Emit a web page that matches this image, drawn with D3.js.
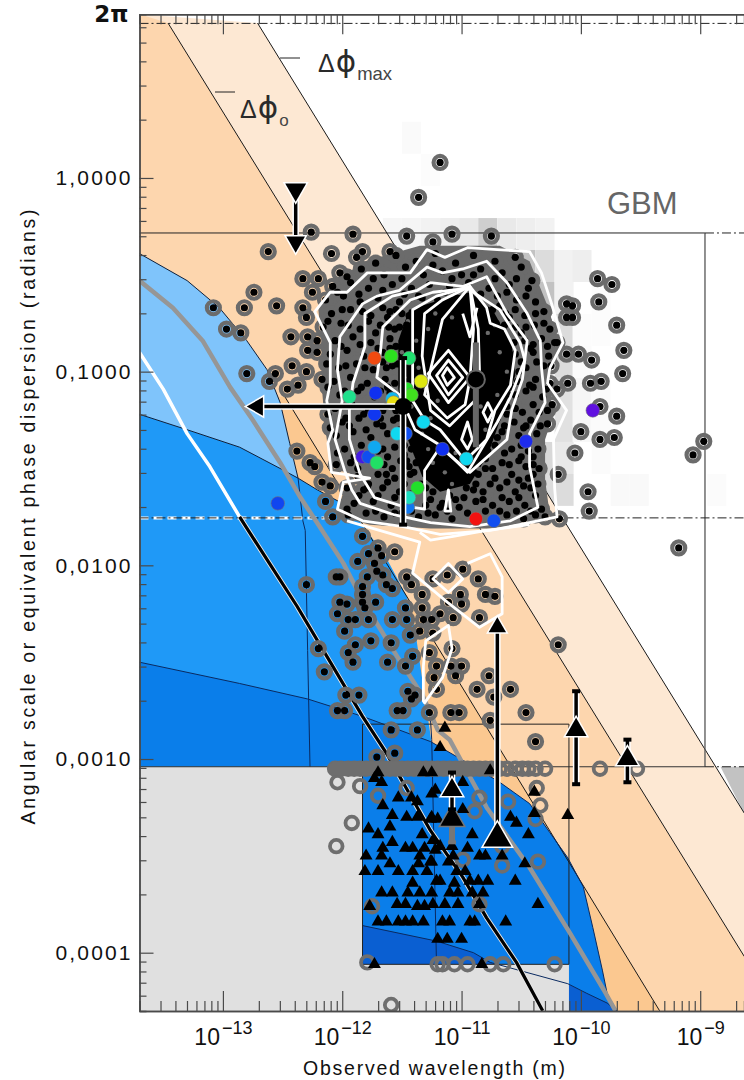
<!DOCTYPE html>
<html>
<head>
<meta charset="utf-8">
<script src="https://cdn.jsdelivr.net/npm/d3@7"></script>
<style>
  html, body { margin: 0; background: #fff; }
  svg { display: block; font-family: "Liberation Sans", Arial, sans-serif; }
</style>
</head>
<body>
<svg id="chart" width="744" height="1080"></svg>
<script>
// all curve and point values are log10(wavelength in m), log10(phase in radians)
const LAM_MIN = -13.699, LAM_MAX = -8.633, PHI_MIN = -4.301, PHI_MAX = 0.845;
const PHI_2PI = 0.798, PHI_GBM_TOP = -0.284, PHI_GBM_LOW = -1.755, PHI_FLOOR = -3.04;
const LAM_GBM_RIGHT = -8.96;
const LAM_BOX = [-11.83, -10.10], PHI_BOX = [-2.82, -4.06];

const maxLine = [[-12.71, 0.80], [-8.63, -3.28]];
const zeroLine = [[-13.46, 0.80], [-8.63, -4.02]];
const thirdLine = [[-12.48, -1.13], [-9.34, -4.30]];
const lightBlueEdge = [[-13.70, -0.39], [-13.30, -0.53], [-13.03, -0.67], [-12.80, -0.84], [-12.63, -0.99], [-12.52, -1.16], [-12.44, -1.37], [-12.37, -1.55]];
const midBlueEdge = [[-13.70, -1.22], [-13.25, -1.31], [-12.86, -1.39], [-12.52, -1.50], [-12.37, -1.55], [-12.21, -1.61], [-11.94, -1.70], [-11.64, -1.95], [-11.46, -2.16], [-11.39, -2.33], [-11.32, -2.63], [-11.25, -2.92]];
const darkBlueEdge = [[-13.70, -2.50], [-12.86, -2.61], [-12.29, -2.69], [-11.83, -2.78], [-11.26, -2.91], [-10.95, -3.02], [-10.68, -3.12], [-10.43, -3.23], [-10.26, -3.38], [-10.11, -3.51], [-9.98, -3.66], [-9.90, -3.87], [-9.82, -4.09], [-9.78, -4.21], [-9.70, -4.30]];
const deepBlueEdge = [[-13.70, -3.70], [-11.83, -3.86], [-11.21, -3.94], [-10.90, -4.00], [-10.76, -4.05], [-10.11, -4.16], [-9.95, -4.21], [-9.78, -4.26], [-9.70, -4.30]];
const thinVertA = [[-12.37, -1.55], [-12.33, -1.77], [-12.31, -1.82], [-12.29, -2.44], [-12.27, -3.04]];
const thinVertB = [[-11.26, -2.80], [-11.25, -2.90], [-11.21, -4.06]];
const greyCurve = [[-13.70, -0.53], [-13.42, -0.67], [-13.17, -0.84], [-12.94, -1.08], [-12.75, -1.25], [-12.52, -1.47], [-12.35, -1.65], [-12.19, -1.80], [-11.99, -1.99], [-11.83, -2.18], [-11.54, -2.47], [-11.32, -2.68], [-11.20, -2.85], [-11.10, -2.90], [-10.79, -3.25], [-10.43, -3.56], [-10.09, -3.90], [-9.81, -4.19], [-9.71, -4.30]];
const whiteCurve = [[-13.70, -0.90], [-13.50, -1.09], [-13.30, -1.32], [-13.11, -1.49], [-12.86, -1.75]];
const blackCurve = [[-12.86, -1.75], [-12.61, -1.99], [-12.38, -2.21], [-12.10, -2.50], [-11.83, -2.78], [-11.63, -2.97], [-11.26, -3.37], [-10.99, -3.61], [-10.79, -3.82], [-10.54, -4.05], [-10.32, -4.30]];

// faint 2d histogram behind everything: lam left, phi top, level
const HIST_W = 0.159, HIST_H = 0.165;
const histCells = [
  [-11.50, 0.29, 0.06], [-11.34, 0.124, 0.03], [-11.66, -0.207, 0.1], [-11.50, -0.207, 0.12], [-11.34, -0.207, 0.15],
  [-11.18, -0.207, 0.2], [-11.02, -0.207, 0.25], [-10.86, -0.207, 0.55], [-10.70, -0.207, 0.25], [-10.54, -0.207, 0.2],
  [-10.38, -0.207, 0.15], [-10.70, -0.372, 0.4], [-10.54, -0.372, 0.7], [-10.38, -0.372, 0.4], [-10.22, -0.372, 0.15],
  [-10.07, -0.372, 0.2], [-10.38, -0.537, 0.7], [-10.22, -0.537, 0.15], [-9.91, -0.537, 0.04], [-10.22, -0.702, 0.4],
  [-10.07, -0.702, 0.04], [-9.91, -0.702, 0.04], [-10.22, -0.867, 0.4], [-10.07, -0.867, 0.05], [-10.22, -1.033, 0.35],
  [-10.07, -1.033, 0.1], [-9.91, -1.033, 0.05], [-10.22, -1.198, 0.35], [-10.07, -1.198, 0.08], [-9.91, -1.198, 0.05],
  [-10.38, -1.363, 0.45], [-10.22, -1.363, 0.25], [-9.91, -1.363, 0.05], [-10.38, -1.528, 0.4], [-10.22, -1.528, 0.4],
  [-9.75, -1.528, 0.07], [-9.59, -1.528, 0.07], [-8.94, -1.528, 0.05]
];

// white contours of the GBM sample
const closedContours = [
  [[-12.23, -0.69], [-12.10, -0.59], [-11.96, -0.59], [-11.79, -0.49], [-11.58, -0.49], [-11.43, -0.49], [-11.29, -0.37], [-11.14, -0.41], [-10.95, -0.36], [-10.70, -0.37], [-10.43, -0.38], [-10.33, -0.49], [-10.24, -0.66], [-10.15, -0.85], [-10.26, -0.98], [-10.28, -1.06], [-10.12, -1.20], [-10.23, -1.35], [-10.22, -1.60], [-10.20, -1.75], [-10.43, -1.78], [-10.76, -1.82], [-11.18, -1.84], [-11.49, -1.80], [-11.83, -1.77], [-12.04, -1.71], [-11.99, -1.57], [-11.77, -1.55], [-12.09, -1.52], [-12.12, -1.37], [-12.08, -1.30], [-12.13, -1.15], [-12.10, -1.06], [-12.10, -0.85]],
  [[-12.02, -0.82], [-11.83, -0.65], [-11.71, -0.61], [-11.52, -0.58], [-11.29, -0.46], [-11.16, -0.49], [-10.99, -0.47], [-10.79, -0.43], [-10.62, -0.54], [-10.45, -0.70], [-10.34, -0.84], [-10.33, -0.98], [-10.30, -1.16], [-10.43, -1.32], [-10.43, -1.49], [-10.36, -1.70], [-10.59, -1.77], [-10.93, -1.80], [-11.26, -1.78], [-11.56, -1.74], [-11.85, -1.68], [-11.92, -1.61], [-11.98, -1.51], [-12.06, -1.35], [-12.00, -1.15], [-12.04, -0.99]],
  [[-11.91, -1.06], [-11.81, -0.87], [-11.81, -0.70], [-11.58, -0.61], [-11.37, -0.58], [-11.26, -0.54], [-10.99, -0.56], [-10.79, -0.51], [-10.62, -0.70], [-10.45, -0.84], [-10.49, -1.04], [-10.58, -1.20], [-10.62, -1.35], [-10.93, -1.52], [-11.18, -1.39], [-11.31, -1.51], [-11.31, -1.71], [-11.52, -1.69], [-11.73, -1.65], [-11.85, -1.53], [-11.94, -1.35], [-11.94, -1.20]],
  [[-11.68, -0.90], [-11.66, -0.77], [-11.43, -0.63], [-11.24, -0.59], [-10.95, -0.57], [-10.68, -0.68], [-10.58, -0.78], [-10.51, -0.85], [-10.47, -0.94], [-10.59, -1.13], [-10.70, -1.26], [-10.95, -1.52], [-11.18, -1.38], [-11.39, -1.30], [-11.52, -1.12], [-11.71, -1.03]],
  [[-11.41, -0.92], [-11.41, -0.68], [-11.21, -0.61], [-10.93, -0.56], [-10.79, -0.67], [-10.76, -0.75], [-10.64, -0.78], [-10.55, -0.89], [-10.59, -1.07], [-10.72, -1.20], [-10.79, -1.35], [-10.97, -1.46], [-11.18, -1.30], [-11.31, -1.25], [-11.41, -1.15]],
  [[-11.33, -0.92], [-11.31, -0.70], [-11.16, -0.63], [-10.93, -0.56], [-10.86, -0.78], [-10.85, -0.99], [-10.89, -1.15], [-11.10, -1.28], [-11.26, -1.20]],
  [[-11.26, -0.99], [-11.16, -0.73], [-10.93, -0.56], [-10.90, -0.78], [-10.93, -1.04], [-10.97, -1.17], [-11.12, -1.24], [-11.31, -1.12]],
  [[-11.11, -0.89], [-10.93, -1.03], [-11.11, -1.16], [-11.28, -1.01]],
  [[-11.11, -0.94], [-10.99, -1.03], [-11.11, -1.12], [-11.21, -1.02]],
  [[-11.12, -0.98], [-11.06, -1.03], [-11.12, -1.07], [-11.16, -1.02]],
  [[-10.78, -1.16], [-10.74, -1.21], [-10.78, -1.26], [-10.82, -1.21]],
  [[-10.95, -1.26], [-10.91, -1.35], [-10.95, -1.40], [-11.00, -1.35]],
  [[-11.11, -1.61], [-11.09, -1.72], [-11.14, -1.72]],
  [[-11.11, -1.99], [-10.99, -2.07], [-11.11, -2.14], [-11.24, -2.07]],
  [[-11.32, -2.70], [-11.32, -2.52], [-11.30, -2.39], [-11.11, -2.31], [-11.08, -2.43], [-11.16, -2.58], [-11.31, -2.71]]
];
const openContours = [
  [[-10.99, -0.70], [-10.93, -0.82], [-10.87, -0.67]],
  [[-11.35, -1.83], [-11.26, -1.87], [-11.07, -1.85], [-10.79, -1.82], [-10.43, -1.79]],
  [[-11.96, -1.77], [-11.35, -1.88], [-11.41, -2.04], [-11.12, -2.19], [-10.85, -2.32], [-10.66, -2.25], [-10.66, -2.06], [-10.76, -1.94], [-10.95, -1.99]]
];

// the rings of the crowded sample merge into one grey area, the middle of it into solid black
const greyCrowd = [[-12.10, -0.55], [-11.81, -0.43], [-11.35, -0.35], [-10.68, -0.35], [-10.43, -0.43], [-10.28, -0.66], [-10.18, -0.86], [-10.30, -1.07], [-10.22, -1.20], [-10.30, -1.35], [-10.30, -1.56], [-10.26, -1.74], [-10.68, -1.81], [-11.26, -1.81], [-11.77, -1.79], [-12.06, -1.74], [-11.98, -1.61], [-11.73, -1.55], [-11.98, -1.52], [-12.10, -1.49], [-12.14, -1.30], [-12.17, -1.09], [-12.17, -0.86], [-12.20, -0.68]];
const blackCore = [[-11.44, -0.68], [-11.18, -0.63], [-10.93, -0.59], [-10.74, -0.68], [-10.58, -0.86], [-10.55, -1.02], [-10.66, -1.22], [-10.78, -1.43], [-10.93, -1.58], [-11.18, -1.62], [-11.33, -1.54], [-11.45, -1.35], [-11.53, -1.09], [-11.53, -0.84]];
const coreGaps = [
  [-11.45, -0.74], [-11.50, -0.90], [-11.38, -0.84], [-11.48, -1.03], [-11.36, -0.98], [-11.42, -1.18], [-11.30, -1.09], [-11.33, -1.32], [-11.26, -1.24],
  [-11.22, -0.70], [-11.28, -0.78], [-11.08, -0.72], [-10.78, -0.80], [-10.68, -0.90], [-10.62, -1.00], [-10.70, -1.12], [-10.80, -1.30], [-10.72, -0.76],
  [-11.24, -1.47], [-11.14, -1.52], [-11.05, -1.42], [-10.86, -1.50], [-11.08, -1.58], [-11.28, -1.40], [-10.84, -1.18], [-11.20, -1.15]
];

const gbmOutliers = [
  [-11.18, 0.08], [-11.36, -0.10], [-12.26, -0.28], [-11.91, -0.29], [-11.46, -0.30], [-11.24, -0.33], [-12.62, -0.38], [-12.09, -0.39], [-11.83, -0.38], [-11.60, -0.38],
  [-12.33, -0.52], [-12.20, -0.52], [-12.25, -0.59], [-12.74, -0.59], [-12.82, -0.67], [-12.55, -0.66], [-13.08, -0.67], [-12.33, -0.67], [-12.30, -0.72], [-12.97, -0.78],
  [-12.85, -0.80], [-12.43, -0.82], [-12.29, -0.82], [-12.21, -0.84], [-12.29, -0.89], [-12.21, -0.90], [-12.80, -1.01], [-12.56, -1.01], [-12.42, -0.97], [-12.61, -1.05],
  [-12.30, -1.00], [-12.46, -1.09], [-12.37, -1.07], [-12.17, -1.04], [-12.38, -1.41], [-12.27, -1.47], [-12.23, -1.49], [-12.17, -1.57], [-12.10, -1.59], [-12.14, -1.67],
  [-11.96, -1.60], [-11.79, -1.60], [-11.63, -1.53], [-11.95, -1.74], [-12.08, -1.75], [-11.08, -0.29], [-10.75, -0.30], [-9.86, -0.52], [-9.74, -0.55], [-9.85, -0.64],
  [-9.70, -0.76], [-9.64, -0.89], [-9.65, -1.01], [-10.12, -0.65], [-10.07, -0.66], [-10.12, -0.72], [-10.07, -0.72], [-10.12, -0.91], [-10.02, -0.91], [-9.91, -0.94],
  [-10.11, -1.06], [-9.92, -1.06], [-9.83, -1.05], [-10.20, -1.09], [-10.24, -1.17], [-9.84, -1.18], [-9.70, -1.23], [-10.00, -1.31], [-9.84, -1.35], [-9.72, -1.34],
  [-10.05, -1.42], [-10.19, -1.53], [-9.94, -1.62], [-9.93, -1.72], [-10.18, -1.76], [-9.06, -1.43], [-8.97, -1.36], [-10.40, -1.44], [-10.40, -1.53], [-10.41, -0.53],
  [-10.20, -0.85], [-9.18, -1.91]
];
const gbmTail = [
  [-11.83, -1.85], [-11.70, -1.91], [-11.78, -1.94], [-11.56, -1.93], [-11.67, -1.95], [-11.87, -1.98], [-11.73, -1.99], [-11.71, -2.03], [-11.79, -2.06], [-11.66, -2.05],
  [-12.05, -2.06], [-12.02, -2.06], [-12.30, -2.10], [-11.63, -2.10], [-11.58, -2.12], [-11.83, -2.11], [-11.83, -2.15], [-11.83, -2.19], [-12.02, -2.19], [-11.96, -2.20],
  [-11.72, -2.19], [-11.81, -2.22], [-12.04, -2.25], [-11.95, -2.28], [-11.89, -2.28], [-11.78, -2.28], [-11.58, -2.28], [-11.46, -2.28], [-11.47, -2.22], [-11.46, -2.06],
  [-11.42, -2.10], [-11.33, -2.15], [-11.33, -2.22], [-11.32, -2.28], [-11.25, -2.28], [-11.98, -2.34], [-11.35, -2.34], [-11.43, -2.36], [-11.89, -2.41], [-11.76, -2.39],
  [-11.59, -2.40], [-12.20, -2.43], [-11.95, -2.45], [-11.91, -2.50], [-11.62, -2.50], [-11.41, -2.47], [-11.47, -2.52], [-12.15, -2.55], [-11.27, -2.45], [-11.21, -2.52],
  [-11.23, -2.58], [-11.45, -2.65], [-11.39, -2.67], [-11.42, -2.69], [-11.97, -2.67], [-11.86, -2.67], [-12.04, -2.75], [-11.98, -2.75], [-11.54, -2.75], [-11.49, -2.75],
  [-11.27, -2.76], [-11.59, -2.85], [-11.37, -2.85], [-11.71, -2.99], [-11.56, -2.97], [-11.12, -2.05], [-10.86, -2.07], [-11.24, -2.07], [-10.99, -2.02], [-10.80, -2.15],
  [-10.72, -2.16], [-11.01, -2.15], [-11.00, -2.20], [-11.11, -2.19], [-11.18, -2.25], [-11.07, -2.27], [-10.85, -2.27], [-11.24, -2.35], [-11.08, -2.43], [-11.09, -2.52],
  [-11.00, -2.52], [-11.05, -2.57], [-11.21, -2.64], [-10.77, -2.57], [-10.87, -2.64], [-10.73, -2.68], [-10.59, -2.64], [-11.09, -2.76], [-11.02, -2.76], [-10.76, -2.80],
  [-10.46, -2.76], [-10.38, -2.91], [-10.19, -2.41]
];
const gbmCloud = [
  [-11.88, -0.41], [-11.72, -0.44], [-11.55, -0.40], [-11.38, -0.43], [-11.22, -0.39], [-11.05, -0.44], [-10.90, -0.40], [-10.72, -0.43], [-10.55, -0.41],
  [-12.02, -0.49], [-11.84, -0.47], [-11.65, -0.50], [-11.47, -0.46], [-11.32, -0.50], [-11.16, -0.48], [-11.00, -0.50], [-10.84, -0.47], [-10.66, -0.49], [-10.50, -0.46],
  [-12.08, -0.56], [-11.93, -0.54], [-11.78, -0.57], [-11.58, -0.55], [-11.42, -0.57], [-11.27, -0.55], [-11.10, -0.56], [-10.94, -0.54], [-10.77, -0.57], [-10.60, -0.55], [-10.44, -0.57],
  [-12.14, -0.63], [-11.99, -0.61], [-11.85, -0.64], [-11.70, -0.62], [-11.52, -0.64], [-11.36, -0.61], [-11.20, -0.63], [-11.04, -0.62], [-10.88, -0.64], [-10.70, -0.61], [-10.54, -0.63], [-10.38, -0.64],
  [-12.09, -0.70], [-11.93, -0.68], [-11.76, -0.71], [-11.60, -0.69], [-11.44, -0.71], [-11.28, -0.68], [-10.63, -0.70], [-10.47, -0.71], [-10.31, -0.69],
  [-12.16, -0.77], [-12.01, -0.75], [-11.85, -0.78], [-11.68, -0.76], [-11.52, -0.77], [-10.71, -0.75], [-10.55, -0.77], [-10.39, -0.76], [-10.26, -0.78],
  [-12.06, -0.84], [-11.91, -0.82], [-11.76, -0.85], [-11.60, -0.83], [-10.63, -0.82], [-10.47, -0.84], [-10.33, -0.83], [-10.22, -0.85],
  [-12.10, -0.91], [-11.96, -0.89], [-11.82, -0.92], [-11.66, -0.90], [-10.55, -0.91], [-10.40, -0.90], [-10.27, -0.92],
  [-12.03, -0.98], [-11.88, -0.96], [-11.74, -0.99], [-11.58, -0.97], [-10.46, -0.98], [-10.31, -0.97],
  [-12.07, -1.05], [-11.93, -1.03], [-11.79, -1.06], [-11.64, -1.04], [-10.53, -1.05], [-10.38, -1.04], [-10.26, -1.06],
  [-12.02, -1.12], [-11.87, -1.10], [-11.73, -1.13], [-11.60, -1.11], [-10.61, -1.12], [-10.46, -1.10], [-10.32, -1.13],
  [-12.06, -1.19], [-11.92, -1.17], [-11.78, -1.20], [-11.63, -1.18], [-11.50, -1.19], [-10.55, -1.19], [-10.40, -1.17], [-10.28, -1.20],
  [-12.00, -1.26], [-11.86, -1.24], [-11.71, -1.27], [-11.57, -1.25], [-10.70, -1.24], [-10.56, -1.26], [-10.42, -1.25],
  [-12.05, -1.33], [-11.91, -1.31], [-11.76, -1.34], [-11.62, -1.32], [-11.49, -1.33], [-10.66, -1.31], [-10.52, -1.33], [-10.37, -1.32],
  [-11.98, -1.40], [-11.84, -1.38], [-11.70, -1.41], [-11.56, -1.39], [-11.42, -1.40], [-10.72, -1.38], [-10.58, -1.40], [-10.44, -1.41],
  [-11.93, -1.47], [-11.80, -1.45], [-11.65, -1.48], [-11.51, -1.46], [-11.38, -1.47], [-10.80, -1.45], [-10.66, -1.47], [-10.52, -1.46], [-10.40, -1.48],
  [-11.87, -1.54], [-11.70, -1.53], [-11.56, -1.55], [-11.43, -1.53], [-10.86, -1.53], [-10.72, -1.55], [-10.58, -1.53], [-10.44, -1.55],
  [-11.82, -1.61], [-11.66, -1.60], [-11.52, -1.62], [-11.38, -1.60], [-11.24, -1.62], [-10.96, -1.60], [-10.82, -1.62], [-10.68, -1.60], [-10.55, -1.62], [-10.42, -1.60],
  [-11.90, -1.68], [-11.74, -1.67], [-11.59, -1.69], [-11.45, -1.67], [-11.30, -1.69], [-11.16, -1.68], [-11.02, -1.70], [-10.88, -1.67], [-10.74, -1.69], [-10.60, -1.67], [-10.47, -1.69],
  [-11.80, -1.73], [-11.65, -1.75], [-11.50, -1.73], [-11.36, -1.75], [-11.22, -1.74], [-11.08, -1.76], [-10.95, -1.73], [-10.62, -1.74], [-10.48, -1.76], [-10.38, -1.74], [-10.30, -1.75],
  [-11.63, -0.98], [-11.60, -0.88], [-11.56, -0.78], [-11.62, -0.72], [-11.55, -0.68], [-11.62, -1.08], [-11.58, -1.16], [-11.54, -1.24], [-11.52, -1.30], [-11.48, -1.38], [-11.46, -1.46], [-11.40, -1.52],
  [-11.30, -1.60], [-11.18, -1.70], [-11.05, -1.66], [-10.88, -1.58], [-10.80, -1.50], [-10.70, -1.34], [-10.62, -1.22], [-10.55, -1.12], [-10.50, -0.95], [-10.50, -0.80], [-10.60, -0.72], [-10.68, -0.66],
  [-11.72, -0.80], [-11.70, -0.94], [-11.70, -1.10], [-11.68, -1.24], [-11.66, -1.40], [-10.42, -0.88], [-10.40, -1.08], [-10.46, -1.28], [-10.50, -1.44], [-10.52, -1.56]
];
// more of the same crowd, sitting in the gaps of the list above
const gbmCloudExtra = [
  [-11.96, -0.51], [-11.74, -0.52], [-11.50, -0.52], [-11.24, -0.45], [-11.08, -0.52], [-10.90, -0.50], [-10.72, -0.52], [-10.54, -0.52],
  [-12.04, -0.59], [-11.86, -0.60], [-11.66, -0.58], [-11.48, -0.60], [-11.33, -0.62], [-11.14, -0.59], [-10.84, -0.60], [-10.62, -0.59], [-10.46, -0.61],
  [-12.00, -0.68], [-11.83, -0.69], [-11.66, -0.67], [-11.50, -0.70], [-10.74, -0.68], [-10.55, -0.68], [-10.38, -0.70],
  [-12.12, -0.74], [-11.95, -0.76], [-11.78, -0.74], [-11.61, -0.77], [-11.46, -0.76], [-10.64, -0.76], [-10.46, -0.77], [-10.31, -0.75],
  [-12.01, -0.87], [-11.85, -0.86], [-11.70, -0.88], [-11.55, -0.87], [-10.56, -0.85], [-10.40, -0.86], [-10.28, -0.87],
  [-12.13, -0.96], [-11.97, -0.97], [-11.81, -0.98], [-11.66, -0.95], [-11.54, -0.96], [-10.52, -1.00], [-10.37, -0.95], [-10.25, -0.97],
  [-12.12, -1.08], [-11.98, -1.10], [-11.84, -1.08], [-11.68, -1.10], [-11.56, -1.06], [-10.58, -1.08], [-10.43, -1.07], [-10.29, -1.09],
  [-12.12, -1.22], [-11.97, -1.24], [-11.82, -1.22], [-11.66, -1.20], [-11.55, -1.20], [-10.62, -1.18], [-10.49, -1.21], [-10.35, -1.21], [-10.28, -1.27],
  [-12.10, -1.29], [-11.94, -1.28], [-11.80, -1.30], [-11.66, -1.28], [-11.46, -1.28], [-10.64, -1.28], [-10.48, -1.29], [-10.34, -1.28],
  [-12.04, -1.42], [-11.90, -1.44], [-11.76, -1.42], [-11.62, -1.44], [-11.48, -1.43], [-10.78, -1.41], [-10.64, -1.42], [-10.50, -1.38], [-10.36, -1.40],
  [-12.05, -1.48], [-11.87, -1.50], [-11.72, -1.47], [-11.58, -1.50], [-11.44, -1.49], [-10.74, -1.50], [-10.60, -1.48], [-10.46, -1.49], [-10.35, -1.50],
  [-11.78, -1.58], [-11.62, -1.57], [-11.48, -1.58], [-11.34, -1.58], [-10.90, -1.61], [-10.76, -1.58], [-10.62, -1.57], [-10.48, -1.59], [-10.36, -1.58],
  [-11.86, -1.64], [-11.70, -1.64], [-11.56, -1.65], [-11.42, -1.63], [-11.26, -1.66], [-11.10, -1.64], [-10.98, -1.65], [-10.82, -1.66], [-10.66, -1.65], [-10.52, -1.65], [-10.38, -1.64],
  [-11.96, -1.71], [-11.72, -1.72], [-11.56, -1.73], [-11.42, -1.72], [-11.28, -1.73], [-11.12, -1.72], [-10.80, -1.72], [-10.68, -1.72], [-10.54, -1.72], [-10.42, -1.72], [-10.33, -1.71]
];

// open rings, upper limits. first the row along the instrument floor
const floorPhi = -3.05;
const floorBandLam = [-12.06, -10.72];
const floorRowLam = [-12.06, -12.01, -11.95, -11.90, -11.85, -11.80, -11.74, -11.70, -11.65, -11.60, -11.55, -11.50, -11.45, -11.40, -11.35, -11.30, -11.25, -11.20, -11.15, -11.10, -11.05, -11.00, -10.95, -10.90, -10.85, -10.80, -10.75, -10.68, -10.62, -10.55, -10.49, -10.44, -10.38, -10.30, -9.84, -9.53];
const openRings = [
  [-12.04, -3.12], [-11.85, -3.14], [-11.70, -3.19], [-11.46, -3.15], [-11.92, -3.33], [-12.05, -3.45], [-11.75, -3.76], [-11.79, -4.05], [-11.59, -4.27], [-11.20, -4.06],
  [-10.37, -3.15], [-10.34, -3.24], [-10.38, -3.31], [-10.61, -3.22], [-10.85, -3.20], [-10.89, -3.27], [-10.66, -3.45], [-10.66, -3.55], [-10.36, -3.53], [-10.99, -3.52],
  [-10.85, -3.75], [-11.16, -4.06], [-11.06, -4.06], [-10.95, -4.06], [-10.76, -4.06], [-10.65, -4.06], [-10.22, -4.06]
];
const triangles = [
  [-11.70, -3.07], [-11.32, -3.07], [-11.25, -3.07], [-11.73, -3.10], [-11.67, -3.12], [-11.53, -3.20], [-11.42, -3.20], [-11.37, -3.22], [-11.25, -3.18], [-11.66, -3.24],
  [-11.58, -3.29], [-11.46, -3.30], [-11.37, -3.30], [-11.25, -3.30], [-11.60, -3.35], [-11.78, -3.36], [-11.70, -3.39], [-11.33, -3.39], [-11.58, -3.43], [-11.66, -3.46],
  [-11.47, -3.46], [-11.41, -3.46], [-11.31, -3.46], [-11.22, -3.47], [-11.80, -3.50], [-11.67, -3.50], [-11.35, -3.50], [-11.26, -3.53], [-11.36, -3.54], [-11.60, -3.54],
  [-11.81, -3.58], [-11.70, -3.58], [-11.53, -3.58], [-11.41, -3.58], [-11.29, -3.58], [-11.41, -3.64], [-11.21, -3.63], [-11.67, -3.69], [-11.58, -3.69], [-11.45, -3.69],
  [-11.35, -3.69], [-11.25, -3.69], [-11.77, -3.76], [-11.54, -3.75], [-11.47, -3.75], [-11.37, -3.76], [-11.31, -3.76], [-11.24, -3.75], [-11.70, -3.84], [-11.63, -3.84],
  [-11.53, -3.84], [-11.47, -3.84], [-11.41, -3.84], [-11.32, -3.84], [-11.20, -3.93], [-11.73, -4.06], [-11.18, -2.94], [-11.14, -2.84], [-10.76, -3.06], [-10.99, -3.12],
  [-11.22, -3.16], [-10.99, -3.26], [-11.26, -3.31], [-11.20, -3.31], [-10.59, -3.30], [-10.54, -3.33], [-10.39, -3.17], [-10.39, -3.28], [-10.11, -3.29], [-10.44, -3.39],
  [-10.91, -3.39], [-11.24, -3.42], [-11.18, -3.45], [-11.08, -3.45], [-10.95, -3.46], [-10.66, -3.50], [-10.85, -3.50], [-10.80, -3.50], [-10.47, -3.54], [-11.25, -3.53],
  [-11.11, -3.53], [-11.07, -3.50], [-11.04, -3.58], [-10.97, -3.58], [-11.18, -3.63], [-11.06, -3.64], [-10.93, -3.63], [-10.86, -3.63], [-10.78, -3.63], [-10.55, -3.63],
  [-11.10, -3.69], [-11.03, -3.69], [-10.91, -3.69], [-10.82, -3.69], [-11.14, -3.75], [-11.03, -3.75], [-10.85, -3.75], [-10.36, -3.75], [-11.16, -3.84], [-11.10, -3.84],
  [-10.93, -3.84], [-10.89, -3.84], [-10.63, -3.84], [-11.12, -3.93], [-11.00, -3.93], [-10.83, -4.06]
];

// coloured sources: lam, phi, position on the blue to red ramp
const colourPoints = [
  [-11.44, -0.93, 0.55], [-11.73, -0.93, 1.0], [-11.59, -0.92, 0.64], [-11.34, -1.05, 0.82], [-11.94, -1.13, 0.52], [-11.72, -1.11, 0.12], [-11.58, -1.14, 0.36], [-11.57, -1.16, 0.84],
  [-11.46, -1.09, 0.62], [-11.42, -1.12, 0.66], [-11.73, -1.22, 0.14], [-11.32, -1.26, 0.4], [-11.47, -1.32, 0.2], [-11.54, -1.32, 0.4], [-11.83, -1.44, 0.04], [-11.78, -1.44, 0.2],
  [-11.73, -1.39, 0.34], [-11.71, -1.47, 0.56], [-11.37, -1.60, 0.62], [-11.45, -1.70, 0.28], [-11.44, -1.65, 0.46], [-11.16, -1.40, 0.12], [-10.96, -1.45, 0.4], [-10.46, -1.36, 0.1],
  [-10.88, -1.76, 1.06], [-10.73, -1.77, 0.2], [-9.90, -1.20, 0.0], [-12.54, -1.68, 0.18]
];

// big labelled measurements: lam, phi, bar top, bar bottom
const barTriangles = [[-9.61, -3.00, -2.90, -3.12], [-10.04, -2.85, -2.65, -3.13], [-11.08, -3.16, -3.07, -3.26]];
const greyBarTriangle = [-11.08, -3.31, -3.20, -3.43];
const xLimitPoint = { lam: -11.49, phi: -1.18, phiTop: -0.93, phiBottom: -1.79, lamTip: -12.71 };
const greyPoint = { lam: -10.88, phi: -1.04, phiTop: -0.85, phiBottom: -1.39 };
const downLimit = { lam: -12.39, phiTop: -0.06, phiTip: -0.33 };
const upLimit = { lam: -10.70, phiBase: -3.41, phiTip: -2.32 };

const xMajor = [-13, -12, -11, -10, -9];
const yMajor = [1, 0.1, 0.01, 0.001, 0.0001];
const yLabels = ["1,0000", "0,1000", "0,0100", "0,0010", "0,0001"];

const SVG = d3.select("#chart");
const X = d3.scaleLog().domain([10 ** LAM_MIN, 10 ** LAM_MAX]).range([139.5, 744]);
const Y = d3.scaleLog().domain([10 ** PHI_MIN, 10 ** PHI_MAX]).range([1011, 14.3]);
const px = d => X(10 ** d[0]);
const py = d => Y(10 ** d[1]);

const LINE = d3.line().x(px).y(py);
const RAMP = d3.scaleLinear()
  .domain([0, 0.12, 0.25, 0.4, 0.5, 0.63, 0.83, 1])
  .range(["#6010e0", "#1030f0", "#1060f0", "#10d8f0", "#20e0a0", "#22e020", "#e8e810", "#f04a10"]);
const HIST_GREY = d3.scaleLinear().domain([0, 1]).range(["#ffffff", "#a8a8a8"]);

SVG.append("clipPath").attr("id", "plot").append("rect")
  .attr("x", X.range()[0]).attr("y", Y.range()[1])
  .attr("width", X.range()[1] - X.range()[0]).attr("height", Y.range()[0] - Y.range()[1]);
const G = SVG.append("g").attr("clip-path", "url(#plot)");

G.selectAll("rect.hist").data(histCells).join("rect")
  .attr("class", "hist")
  .attr("x", d => px(d))
  .attr("y", d => py(d))
  .attr("width", d => X(10 ** (d[0] + HIST_W)) - px(d))
  .attr("height", d => Y(10 ** (d[1] - HIST_H)) - py(d))
  .attr("fill", d => HIST_GREY(d[2]));

function fillRegion(points, colour) {
  G.append("path").datum(points).attr("d", LINE.curve(d3.curveLinearClosed)).attr("fill", colour);
  LINE.curve(d3.curveLinear);
}
function stroke(points, colour, width, dash) {
  return G.append("path").datum(points).attr("d", LINE).attr("fill", "none")
    .attr("stroke", colour).attr("stroke-width", width).attr("stroke-dasharray", dash || null)
    .attr("stroke-linejoin", "round");
}

const BL = [LAM_MIN, PHI_MIN], BR = [LAM_MAX, PHI_MIN], TL = [LAM_MIN, PHI_MAX];
fillRegion([TL, maxLine[0], maxLine[1], BR, BL], "#fde8d3");
fillRegion([TL, zeroLine[0], zeroLine[1], BR, BL], "#fdd6ae");
fillRegion([[LAM_MIN, thirdLine[0][1]], ...thirdLine, BL], "#fbc890");
fillRegion([...lightBlueEdge, [LAM_MIN, lightBlueEdge[7][1]]], "#7fc4fb");
fillRegion([...midBlueEdge, [LAM_MIN, -2.92]], "#1f99f7");
fillRegion([...darkBlueEdge, BL], "#0a7eea");
fillRegion([...deepBlueEdge, BL], "#0a5fd2");

// grey: excluded below the floor, except inside the small box
fillRegion([[LAM_MIN, PHI_FLOOR], [LAM_BOX[0], PHI_FLOOR], [LAM_BOX[0], PHI_BOX[1]], [LAM_BOX[1], PHI_BOX[1]], [LAM_BOX[1], PHI_MIN], BL], "#e0e0e0");
fillRegion([[-8.83, PHI_FLOOR], [LAM_MAX, PHI_FLOOR], [LAM_MAX, -3.28]], "#c2c2c2");

stroke(maxLine, "#1a1a1a", 1);
stroke(zeroLine, "#1a1a1a", 1);
stroke(thirdLine, "#1a1a1a", 1);
stroke(lightBlueEdge, "#10203a", 1);
stroke(midBlueEdge.slice(0, 7), "#10203a", 1);
stroke(darkBlueEdge, "#0a2a60", 1);
stroke(deepBlueEdge.slice(1), "#0a2a60", 1);
stroke(thinVertA, "#0a2a60", 1);
stroke(thinVertB, "#0a2a60", 1);

// boxes and the dash-dot levels
stroke([[LAM_MIN, PHI_GBM_TOP], [LAM_GBM_RIGHT, PHI_GBM_TOP]], "#222", 1);
stroke([[LAM_GBM_RIGHT, PHI_GBM_TOP], [LAM_GBM_RIGHT, PHI_FLOOR]], "#555", 1.3);
stroke([[LAM_MIN, PHI_FLOOR], [LAM_GBM_RIGHT, PHI_FLOOR]], "#333", 1.2);
stroke([[LAM_BOX[0], PHI_BOX[1]], [LAM_BOX[0], PHI_BOX[0]], [LAM_BOX[1], PHI_BOX[0]], [LAM_BOX[1], PHI_BOX[1]], [LAM_BOX[0], PHI_BOX[1]]], "#222", 1);
stroke([[LAM_GBM_RIGHT, PHI_GBM_TOP], [LAM_MAX, PHI_GBM_TOP]], "#222", 1, "9 3 2 3");
stroke([[LAM_GBM_RIGHT, PHI_FLOOR], [LAM_MAX, PHI_FLOOR]], "#222", 1, "9 3 2 3");
stroke([[LAM_MIN, PHI_2PI], [LAM_MAX, PHI_2PI]], "#222", 1, "9 3 2 3");
stroke([[LAM_MIN, PHI_GBM_LOW], [-12.06, PHI_GBM_LOW]], "#fff", 3, "9 5");
stroke([[LAM_MIN, PHI_GBM_LOW], [LAM_MAX, PHI_GBM_LOW]], "#222", 1, "9 3 2 3");

stroke(greyCurve, "#969696", 4.5);
stroke(whiteCurve, "#fff", 3.5);
stroke(blackCurve, "#e8e8e8", 5);
stroke(blackCurve, "#000", 3.2);

G.append("path").datum(greyCrowd).attr("d", LINE.curve(d3.curveLinearClosed)).attr("fill", "#6b6b6b");
LINE.curve(d3.curveLinear);

// rings first, then the dots, so all the dots stay visible in the crowd
const gbmAll = [...gbmOutliers, ...gbmCloud, ...gbmCloudExtra, ...gbmTail];
G.selectAll("circle.ring").data(gbmAll).join("circle")
  .attr("class", "ring")
  .attr("cx", px).attr("cy", py).attr("r", 6.5)
  .attr("fill", "none").attr("stroke", "#6b6b6b").attr("stroke-width", 4.2);

const floorRing = floorRowLam.map(l => [l, floorPhi]);
G.selectAll("circle.open").data([...floorRing, ...openRings]).join("circle")
  .attr("class", "open")
  .attr("cx", px).attr("cy", py).attr("r", 6.3)
  .attr("fill", "none").attr("stroke", "#6e6e6e").attr("stroke-width", 3.8);
G.append("path").datum(floorBandLam.map(l => [l, floorPhi])).attr("d", LINE)
  .attr("stroke", "#6e6e6e").attr("stroke-width", 14).attr("stroke-linecap", "round");

G.append("path").datum(blackCore).attr("d", LINE.curve(d3.curveLinearClosed)).attr("fill", "#000");
LINE.curve(d3.curveLinear);
G.selectAll("circle.gap").data(coreGaps).join("circle")
  .attr("class", "gap")
  .attr("cx", px).attr("cy", py).attr("r", 2.2).attr("fill", "#6b6b6b");

G.selectAll("circle.dot").data(gbmAll).join("circle")
  .attr("class", "dot")
  .attr("cx", px).attr("cy", py).attr("r", 3.6).attr("fill", "#000");

G.selectAll("path.tri").data(triangles).join("path")
  .attr("class", "tri")
  .attr("d", d3.symbol(d3.symbolTriangle, 72))
  .attr("transform", d => `translate(${px(d)},${py(d)})`)
  .attr("fill", "#000");

closedContours.forEach(c => {
  G.append("path").datum(c).attr("d", LINE.curve(d3.curveLinearClosed)).attr("fill", "none")
    .attr("stroke", "#fff").attr("stroke-width", 2.8).attr("stroke-linejoin", "round");
});
LINE.curve(d3.curveLinear);
openContours.forEach(c => stroke(c, "#fff", 2.8));

G.selectAll("circle.colour").data(colourPoints).join("circle")
  .attr("class", "colour")
  .attr("cx", px).attr("cy", py).attr("r", 6.8)
  .attr("fill", d => RAMP(d[2]))
  .attr("stroke", "#777").attr("stroke-width", 0.6);

// big measurements with halo
function haloBar(lam, p0, p1, halo, core, width) {
  stroke([[lam, p0], [lam, p1]], halo, width + 3);
  stroke([[lam, p0], [lam, p1]], core, width);
}
function cap(lam, phi, core) {
  G.append("line")
    .attr("x1", X(10 ** lam) - 4).attr("x2", X(10 ** lam) + 4)
    .attr("y1", Y(10 ** phi)).attr("y2", Y(10 ** phi))
    .attr("stroke", core).attr("stroke-width", 4);
}
function marker(lam, phi, size, rotate, halo, core) {
  G.append("path")
    .attr("d", d3.symbol(d3.symbolTriangle, size))
    .attr("transform", `translate(${X(10 ** lam)},${Y(10 ** phi)}) rotate(${rotate})`)
    .attr("fill", core).attr("stroke", halo).attr("stroke-width", 3)
    .attr("paint-order", "stroke").attr("stroke-linejoin", "miter");
}

const grey = greyBarTriangle;
haloBar(grey[0], grey[2], grey[3], "#777", "#777", 3);
cap(grey[0], grey[3], "#777");
marker(grey[0], grey[1], 230, 0, "#777", "#000");

barTriangles.forEach(d => {
  haloBar(d[0], d[2], d[3], "#fff", "#000", 3.5);
  cap(d[0], d[2], "#000");
  cap(d[0], d[3], "#000");
  marker(d[0], d[1], 190, 0, "#fff", "#000");
});

haloBar(upLimit.lam, upLimit.phiBase, upLimit.phiTip, "#fff", "#000", 3.5);
marker(upLimit.lam, upLimit.phiTip, 130, 0, "#fff", "#000");
marker(upLimit.lam, upLimit.phiBase, 340, 0, "#fff", "#000");

haloBar(downLimit.lam, downLimit.phiTop, downLimit.phiTip, "#fff", "#000", 3.5);
marker(downLimit.lam, downLimit.phiTop, 190, 180, "#fff", "#000");
marker(downLimit.lam, downLimit.phiTip, 150, 180, "#fff", "#000");

haloBar(greyPoint.lam, greyPoint.phiTop, greyPoint.phiBottom, "#666", "#666", 3);
G.append("circle").attr("cx", X(10 ** greyPoint.lam)).attr("cy", Y(10 ** greyPoint.phi))
  .attr("r", 9).attr("fill", "#000").attr("stroke", "#666").attr("stroke-width", 2);

stroke([[xLimitPoint.lam, xLimitPoint.phi], [xLimitPoint.lamTip, xLimitPoint.phi]], "#fff", 6.5);
stroke([[xLimitPoint.lam, xLimitPoint.phi], [xLimitPoint.lamTip, xLimitPoint.phi]], "#000", 3.5);
marker(xLimitPoint.lamTip, xLimitPoint.phi, 150, -90, "#fff", "#000");
haloBar(xLimitPoint.lam, xLimitPoint.phiTop, xLimitPoint.phiBottom, "#fff", "#000", 3.5);
cap(xLimitPoint.lam, xLimitPoint.phiTop, "#000");
cap(xLimitPoint.lam, xLimitPoint.phiBottom, "#000");
G.append("circle").attr("cx", X(10 ** xLimitPoint.lam)).attr("cy", Y(10 ** xLimitPoint.phi))
  .attr("r", 8.5).attr("fill", "#000");

// axes
const xMinor = d3.range(-14, -8).flatMap(e => d3.range(2, 10).map(m => m * 10 ** e)).filter(v => v >= X.domain()[0] && v <= X.domain()[1]);
const yMinor = d3.range(-5, 1).flatMap(e => d3.range(2, 10).map(m => m * 10 ** e)).filter(v => v >= Y.domain()[0] && v <= Y.domain()[1]);
const xMajorValues = xMajor.map(e => 10 ** e);
const AX = "#4a4a4a";

function styleAxis(g) {
  g.selectAll("path.domain").attr("stroke", AX).attr("stroke-width", 1.4);
  g.selectAll(".tick line").attr("stroke", AX).attr("stroke-width", 1.2);
  return g;
}

const bottomAt = `translate(0,${Y.range()[0]})`;
const topAt = `translate(0,${Y.range()[1]})`;
const leftAt = `translate(${X.range()[0]},0)`;

SVG.append("g").attr("transform", bottomAt)
  .call(d3.axisBottom(X).tickValues(xMinor).tickSize(-10).tickFormat(""))
  .call(styleAxis);
const xAxis = SVG.append("g").attr("transform", bottomAt)
  .call(d3.axisBottom(X).tickValues(xMajorValues).tickSize(-20).tickSizeOuter(0).tickFormat(""))
  .call(styleAxis);
xAxis.selectAll(".tick text").each(function (d, i) {
  const T = d3.select(this).attr("y", 34).attr("dy", 0).attr("fill", "#111")
    .attr("font-family", "Liberation Sans").attr("text-anchor", "middle");
  T.append("tspan").attr("font-size", 23).text("10");
  T.append("tspan").attr("font-size", 18).attr("dy", -11).attr("dx", 2).text("\u2212" + Math.abs(xMajor[i]));
});

SVG.append("g").attr("transform", topAt)
  .call(d3.axisTop(X).tickValues(xMinor).tickSize(-10).tickFormat(""))
  .call(styleAxis);
SVG.append("g").attr("transform", topAt)
  .call(d3.axisTop(X).tickValues(xMajorValues).tickSize(-20).tickSizeOuter(0).tickFormat(""))
  .call(styleAxis);

SVG.append("g").attr("transform", leftAt)
  .call(d3.axisLeft(Y).tickValues(yMinor).tickSize(-7).tickFormat(""))
  .call(styleAxis);
const yAxis = SVG.append("g").attr("transform", leftAt)
  .call(d3.axisLeft(Y).tickValues(yMajor).tickSize(-14).tickSizeOuter(0).tickPadding(9)
    .tickFormat((d, i) => yLabels[i]))
  .call(styleAxis);
yAxis.selectAll(".tick text")
  .attr("font-size", 21).attr("fill", "#111").attr("font-family", "Liberation Sans")
  .attr("textLength", 75).attr("lengthAdjust", "spacing");
yAxis.append("text")
  .attr("x", -11).attr("y", Y(10 ** PHI_2PI) - 1)
  .attr("text-anchor", "end").attr("font-size", 23).attr("font-weight", "bold")
  .attr("font-family", "DejaVu Sans").attr("fill", "#111")
  .text("2\u03c0");

SVG.append("text")
  .attr("x", 434).attr("y", 1075).attr("text-anchor", "middle")
  .attr("font-size", 19.5).attr("fill", "#111")
  .attr("textLength", 262).attr("lengthAdjust", "spacing")
  .text("Observed wavelength (m)");
SVG.append("text")
  .attr("transform", "translate(35,517) rotate(-90)").attr("text-anchor", "middle")
  .attr("font-size", 19.5).attr("fill", "#111")
  .attr("textLength", 615).attr("lengthAdjust", "spacing")
  .text("Angular scale or equivalent phase dispersion (radians)");

// annotations
SVG.append("text").attr("x", 607).attr("y", 214).attr("font-size", 31).attr("fill", "#666").text("GBM");

function deltaLabel(x, y, sub, subSize) {
  const T = SVG.append("text").attr("x", x).attr("y", y).attr("fill", "#2a2a2a");
  T.append("tspan").attr("font-size", 25).text("\u0394");
  T.append("tspan").attr("font-size", 31).attr("font-family", "DejaVu Sans").attr("dx", 1).text("\u03d5");
  T.append("tspan").attr("font-size", subSize).attr("dx", 1).attr("dy", 8).attr("fill", "#444").text(sub);
}
deltaLabel(318, 72, "max", 18.5);
deltaLabel(240, 118, "o", 17);
SVG.append("line").attr("x1", 280).attr("x2", 300).attr("y1", 58).attr("y2", 58).attr("stroke", "#222");
SVG.append("line").attr("x1", 215).attr("x2", 235).attr("y1", 92).attr("y2", 92).attr("stroke", "#222");
</script>
</body>
</html>
